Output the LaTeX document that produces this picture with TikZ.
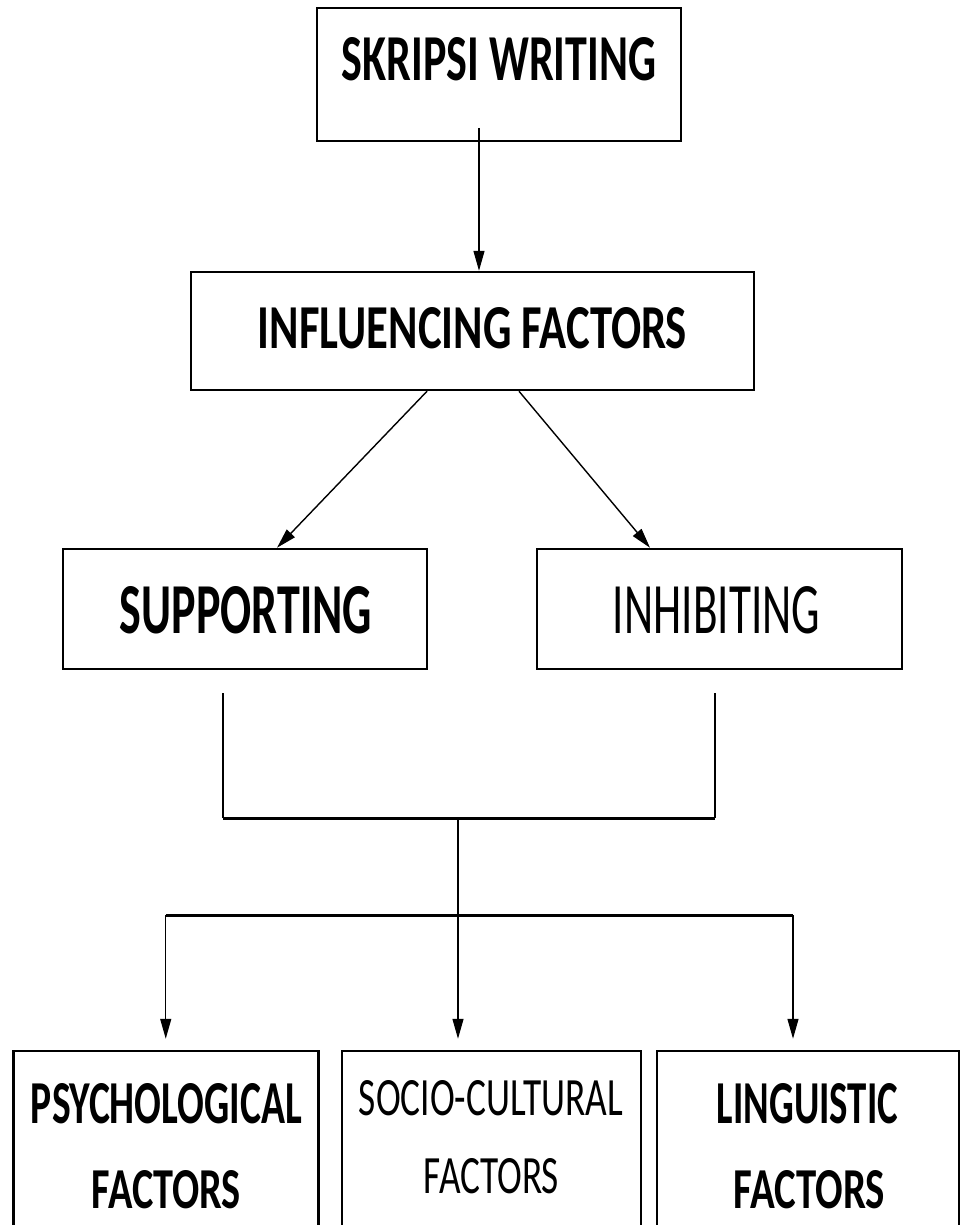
\documentclass[tikz,border=0pt]{standalone}
\usepackage{fontspec}
\setmainfont{Carlito}
\usepackage{graphicx}
\usetikzlibrary{arrows.meta}

% text squeezed to the size it has in the scan
\newcommand{\boxtext}[3]{\resizebox{#1pt}{#2pt}{#3}}

\tikzset{
  box/.style={draw, line width=2.5pt, inner sep=0pt},
  lbl/.style={inner sep=0pt, anchor=base},
  link/.style={line width=1.4pt},
  hlink/.style={line width=3pt},
  arr/.style={link, -{Triangle[width=11pt,length=20pt]}},
}

\begin{document}
\begin{tikzpicture}[x=1pt, y=-1pt]

    \useasboundingbox (0,0) rectangle (962,1225);
    \clip (0,0) rectangle (962,1225);

    % boxes
    \node[box, minimum width=364pt, minimum height=133pt] (skripsi) at (499,74.5) {};
    \node[box, minimum width=563pt, minimum height=118pt] (influencing) at (472.5,331) {};
    \node[box, minimum width=364pt, minimum height=120pt] (supporting) at (245,609) {};
    \node[box, minimum width=365pt, minimum height=120pt] (inhibiting) at (719.5,609) {};
    \node[box, minimum width=305pt, minimum height=189pt] (psych) at (165.75,1145.5) {};
    \node[box, minimum width=299pt, minimum height=189pt] (socio) at (491.5,1145.5) {};
    \node[box, minimum width=302pt, minimum height=189pt] (ling) at (808,1145.5) {};

    % labels
    \node[lbl] (skripsi-t) at (499,81) {\boxtext{314}{43}{\bfseries SKRIPSI WRITING}};
    \node[lbl] (influencing-t) at (472.5,348) {\boxtext{429}{41}{\bfseries INFLUENCING FACTORS}};
    \node[lbl] (supporting-t) at (246,633) {\boxtext{252}{47}{\bfseries SUPPORTING}};
    \node[lbl] (inhibiting-t) at (716.5,633) {\boxtext{207}{47}{INHIBITING}};
    \node[lbl] (psych-t1) at (166.5,1123) {\boxtext{271}{40}{\bfseries PSYCHOLOGICAL}};
    \node[lbl] (psych-t2) at (166.5,1208) {\boxtext{149}{38}{\bfseries FACTORS}};
    \node[lbl] (socio-t1) at (491,1115) {\boxtext{264}{35}{SOCIO-CULTURAL}};
    \node[lbl] (socio-t2) at (491.5,1193) {\boxtext{135}{35}{FACTORS}};
    \node[lbl] (ling-t1) at (807.5,1123) {\boxtext{181}{40}{\bfseries LINGUISTIC}};
    \node[lbl] (ling-t2) at (809.5,1208) {\boxtext{151}{38}{\bfseries FACTORS}};

    % top arrows
    \coordinate (a1) at (479,128);
    \draw[arr] (a1) -- (a1 |- influencing.north);
    \draw[arr] ([xshift=-45.5pt]influencing.south) -- ([xshift=32pt]supporting.north);
    \draw[arr] ([xshift=46.5pt]influencing.south) -- ([xshift=-69.5pt]inhibiting.north);

    % joining lines
    \coordinate (j1) at ([xshift=-22pt,yshift=-23pt]supporting.south);
    \coordinate (j2) at ([xshift=-4.5pt,yshift=-23pt]inhibiting.south);
    \coordinate (merge) at (458,818);
    \coordinate (split) at (458,915);
    \draw[link] (j1) -- (j1 |- merge);
    \draw[link] (j2) -- (j2 |- merge);
    \draw[hlink] (j1 |- merge) -- (j2 |- merge);

    % bottom arrows
    \draw[arr] (merge) -- ([xshift=-33.5pt,yshift=11pt]socio.north);
    \draw[hlink] (split -| psych.north) -- (split -| 793,0);
    \draw[arr] (split -| psych.north) -- ([yshift=11pt]psych.north);
    \draw[arr] (split -| 793,0) -- ([xshift=-15pt,yshift=11pt]ling.north);

\end{tikzpicture}
\end{document}
